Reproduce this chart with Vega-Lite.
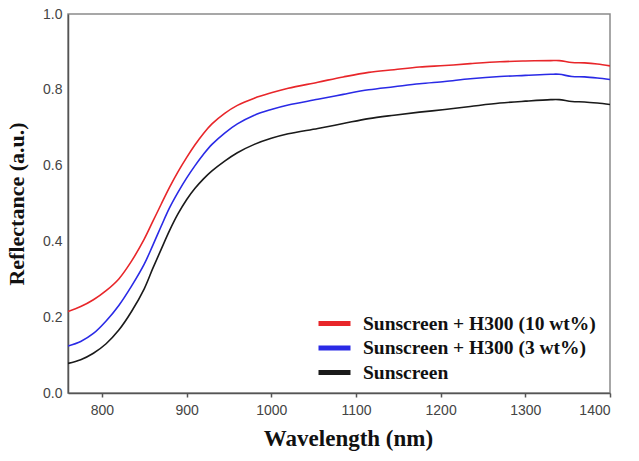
{
  "$schema": "https://vega.github.io/schema/vega-lite/v6.json",
  "width": 542,
  "height": 379,
  "autosize": "none",
  "padding": {"left": 68, "top": 14, "right": 29, "bottom": 68},
  "background": "white",
  "config": {
    "view": {"stroke": "#8a8a8a", "strokeWidth": 1.5},
    "axis": {"grid": false}
  },
  "data": {
    "values": [
      {"wl": 760, "s10": 0.215, "s3": 0.124, "s0": 0.078},
      {"wl": 775, "s10": 0.228, "s3": 0.136, "s0": 0.088},
      {"wl": 790, "s10": 0.246, "s3": 0.157, "s0": 0.105},
      {"wl": 805, "s10": 0.270, "s3": 0.190, "s0": 0.130},
      {"wl": 820, "s10": 0.301, "s3": 0.231, "s0": 0.166},
      {"wl": 835, "s10": 0.348, "s3": 0.282, "s0": 0.215},
      {"wl": 850, "s10": 0.406, "s3": 0.340, "s0": 0.275},
      {"wl": 860, "s10": 0.452, "s3": 0.389, "s0": 0.328},
      {"wl": 870, "s10": 0.498, "s3": 0.440, "s0": 0.379},
      {"wl": 880, "s10": 0.543, "s3": 0.489, "s0": 0.429},
      {"wl": 890, "s10": 0.584, "s3": 0.530, "s0": 0.473},
      {"wl": 900, "s10": 0.621, "s3": 0.567, "s0": 0.510},
      {"wl": 910, "s10": 0.655, "s3": 0.600, "s0": 0.540},
      {"wl": 920, "s10": 0.685, "s3": 0.630, "s0": 0.565},
      {"wl": 930, "s10": 0.710, "s3": 0.656, "s0": 0.586},
      {"wl": 945, "s10": 0.738, "s3": 0.686, "s0": 0.612},
      {"wl": 960, "s10": 0.759, "s3": 0.710, "s0": 0.634},
      {"wl": 980, "s10": 0.778, "s3": 0.733, "s0": 0.656},
      {"wl": 1000, "s10": 0.792, "s3": 0.748, "s0": 0.672},
      {"wl": 1020, "s10": 0.804, "s3": 0.760, "s0": 0.684},
      {"wl": 1055, "s10": 0.820, "s3": 0.775, "s0": 0.698},
      {"wl": 1085, "s10": 0.834, "s3": 0.788, "s0": 0.711},
      {"wl": 1115, "s10": 0.846, "s3": 0.800, "s0": 0.724},
      {"wl": 1145, "s10": 0.853, "s3": 0.808, "s0": 0.733},
      {"wl": 1175, "s10": 0.860, "s3": 0.816, "s0": 0.741},
      {"wl": 1205, "s10": 0.864, "s3": 0.822, "s0": 0.748},
      {"wl": 1235, "s10": 0.869, "s3": 0.829, "s0": 0.756},
      {"wl": 1270, "s10": 0.874, "s3": 0.835, "s0": 0.765},
      {"wl": 1300, "s10": 0.876, "s3": 0.838, "s0": 0.770},
      {"wl": 1330, "s10": 0.877, "s3": 0.841, "s0": 0.774},
      {"wl": 1340, "s10": 0.877, "s3": 0.841, "s0": 0.774},
      {"wl": 1355, "s10": 0.872, "s3": 0.835, "s0": 0.769},
      {"wl": 1370, "s10": 0.871, "s3": 0.834, "s0": 0.768},
      {"wl": 1385, "s10": 0.868, "s3": 0.831, "s0": 0.765},
      {"wl": 1400, "s10": 0.863, "s3": 0.827, "s0": 0.761}
    ]
  },
  "transform": [
    {"fold": ["s10", "s3", "s0"], "as": ["series", "r"]}
  ],
  "mark": {"type": "line", "strokeWidth": 1.6, "interpolate": "catmull-rom", "clip": true},
  "encoding": {
    "x": {
      "field": "wl",
      "type": "quantitative",
      "scale": {"domain": [760, 1400], "nice": false, "zero": false},
      "axis": {
        "title": "Wavelength (nm)",
        "titleX": 280,
        "values": [800, 900, 1000, 1100, 1200, 1300, 1400],
        "format": "d",
        "domainColor": "#555555",
        "domainWidth": 1.5,
        "tickColor": "#555555",
        "tickWidth": 1.5,
        "tickSize": 4,
        "labelPadding": 6,
        "labelFont": "Liberation Sans",
        "labelFontSize": 14,
        "labelColor": "#444444",
        "titleFont": "Liberation Serif",
        "titleFontWeight": "bold",
        "titleFontSize": 23,
        "titleColor": "#111111",
        "titlePadding": 10
      }
    },
    "y": {
      "field": "r",
      "type": "quantitative",
      "scale": {"domain": [0, 1], "nice": false},
      "axis": {
        "title": "Reflectance (a.u.)",
        "values": [0, 0.2, 0.4, 0.6, 0.8, 1.0],
        "format": ".1f",
        "ticks": false,
        "domainColor": "#555555",
        "domainWidth": 1.5,
        "labelPadding": 6,
        "labelFont": "Liberation Sans",
        "labelFontSize": 14,
        "labelColor": "#444444",
        "titleFont": "Liberation Serif",
        "titleFontWeight": "bold",
        "titleFontSize": 22,
        "titleColor": "#111111",
        "titlePadding": 14
      }
    },
    "color": {
      "field": "series",
      "type": "nominal",
      "scale": {"domain": ["s10", "s3", "s0"], "range": ["#e8262a", "#2a2ae6", "#1a1a1a"]},
      "legend": {
        "title": null,
        "orient": "none",
        "legendX": 256,
        "legendY": 299,
        "padding": 0,
        "symbolType": "M-2,0H2",
        "symbolStrokeWidth": 5,
        "symbolSize": 256,
        "labelOffset": 18,
        "rowPadding": 3.5,
        "labelFont": "Liberation Serif",
        "labelFontWeight": "bold",
        "labelFontSize": 19.5,
        "labelColor": "#111111",
        "labelLimit": 400,
        "labelExpr": "datum.value == 's10' ? 'Sunscreen + H300 (10 wt%)' : datum.value == 's3' ? 'Sunscreen + H300 (3 wt%)' : 'Sunscreen'"
      }
    }
  }
}
